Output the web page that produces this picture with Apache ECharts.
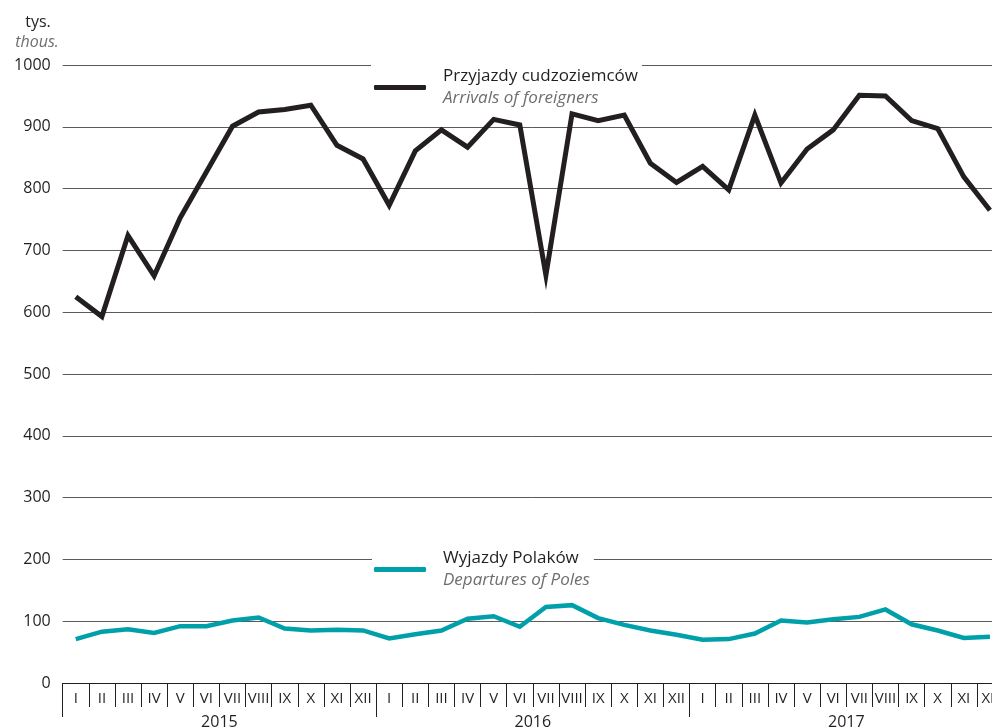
<!DOCTYPE html>
<html>
<head>
<meta charset="utf-8">
<script src="https://cdn.jsdelivr.net/npm/echarts@6/dist/echarts.min.js"></script>
<style>
html,body{margin:0;padding:0;background:#fff;overflow:hidden;width:992px;height:728px;}
#chart{width:1012px;height:728px;}
</style>
</head>
<body>
<div id="chart"></div>
<script>
const months = ['I','II','III','IV','V','VI','VII','VIII','IX','X','XI','XII',
                'I','II','III','IV','V','VI','VII','VIII','IX','X','XI','XII',
                'I','II','III','IV','V','VI','VII','VIII','IX','X','XI','XII'];
const years = ['2015','2016','2017'];
const yTicks = [0,100,200,300,400,500,600,700,800,900,1000];

const arrivalsName = 'Przyjazdy cudzoziemców';
const arrivalsNameEn = 'Arrivals of foreigners';
const departuresName = 'Wyjazdy Polaków';
const departuresNameEn = 'Departures of Poles';

const arrivals = [625,593,724,659,753,827,901,924,928,935,870,848,
                  773,861,895,867,912,903,660,921,910,919,841,810,
                  836,798,919,809,864,895,951,950,910,897,819,765];
const departures = [71,83,87,81,92,92,101,106,88,85,86,85,
                    72,79,85,104,108,91,123,126,105,94,85,78,
                    70,71,80,101,98,103,107,119,95,85,73,75];

const FONT = '"Open Sans"';
const DARK = '#231f20';
const GREY = '#6d6e71';
const TEAL = '#00a0aa';

const chart = echarts.init(document.getElementById('chart'), null, {renderer:'canvas'});

function legendRich() {
  return {
    a: {fontFamily: FONT, fontSize: 17, color: DARK, lineHeight: 22},
    b: {fontFamily: FONT, fontSize: 17, color: GREY, fontStyle: 'italic', lineHeight: 22}
  };
}

chart.setOption({
  animation: false,
  backgroundColor: '#fff',
  textStyle: {fontFamily: FONT},
  grid: {left: 62.7, right: 9, top: 65, bottom: 45, containLabel: false, outerBoundsMode: 'none'},
  graphic: [
    {type: 'text', x: 38, y: 22, style: {text: 'tys.', font: '16px ' + FONT, fill: DARK, align: 'center', verticalAlign: 'middle'}},
    {type: 'text', x: 37, y: 42, style: {text: 'thous.', font: 'italic 16px ' + FONT, fill: GREY, align: 'center', verticalAlign: 'middle'}}
  ],
  legend: [
    {
      data: [{name: arrivalsName}],
      left: 371, top: 63,
      padding: [5, 4, 0, 3],
      backgroundColor: '#fff',
      icon: 'roundRect',
      itemWidth: 52, itemHeight: 5,
      formatter: () => '{a|' + arrivalsName + '}\n{b|' + arrivalsNameEn + '}',
      textStyle: {rich: legendRich(), padding: [0, 0, 0, 12]},
      selectedMode: false
    },
    {
      data: [{name: departuresName}],
      left: 372, top: 546,
      padding: [4, 4, 0, 2],
      backgroundColor: '#fff',
      icon: 'roundRect',
      itemWidth: 52, itemHeight: 5,
      formatter: () => '{a|' + departuresName + '}\n{b|' + departuresNameEn + '}',
      textStyle: {rich: legendRich(), padding: [0, 0, 0, 12]},
      selectedMode: false
    }
  ],
  xAxis: [
    {
      type: 'category',
      data: months,
      boundaryGap: true,
      position: 'bottom',
      axisLine: {show: true, lineStyle: {color: DARK, width: 1}},
      axisTick: {show: true, interval: 0, length: 24, lineStyle: {color: DARK, width: 1}},
      axisLabel: {interval: 0, margin: 8, fontFamily: FONT, fontSize: 15, color: DARK},
      splitLine: {show: false}
    },
    {
      type: 'category',
      data: years,
      boundaryGap: true,
      position: 'bottom',
      axisLine: {show: false},
      axisTick: {show: true, interval: 0, length: 34, lineStyle: {color: DARK, width: 1}},
      axisLabel: {interval: 0, margin: 31, fontFamily: FONT, fontSize: 16, color: DARK},
      splitLine: {show: false}
    }
  ],
  yAxis: {
    type: 'value',
    min: yTicks[0], max: yTicks[yTicks.length - 1], interval: 100,
    axisLine: {show: false},
    axisTick: {show: false},
    axisLabel: {margin: 12, fontFamily: FONT, fontSize: 16, color: DARK, formatter: v => String(v)},
    splitLine: {show: true, lineStyle: {color: '#5a5a5a', width: 1}}
  },
  series: [
    {
      name: arrivalsName,
      type: 'line',
      data: arrivals,
      xAxisIndex: 0,
      showSymbol: false,
      symbol: 'none',
      color: DARK,
      lineStyle: {color: DARK, width: 5, join: 'miter'},
      z: 3
    },
    {
      name: departuresName,
      type: 'line',
      data: departures,
      xAxisIndex: 0,
      showSymbol: false,
      symbol: 'none',
      color: TEAL,
      lineStyle: {color: TEAL, width: 4.5, join: 'miter'},
      z: 3
    }
  ]
});
</script>
</body>
</html>
